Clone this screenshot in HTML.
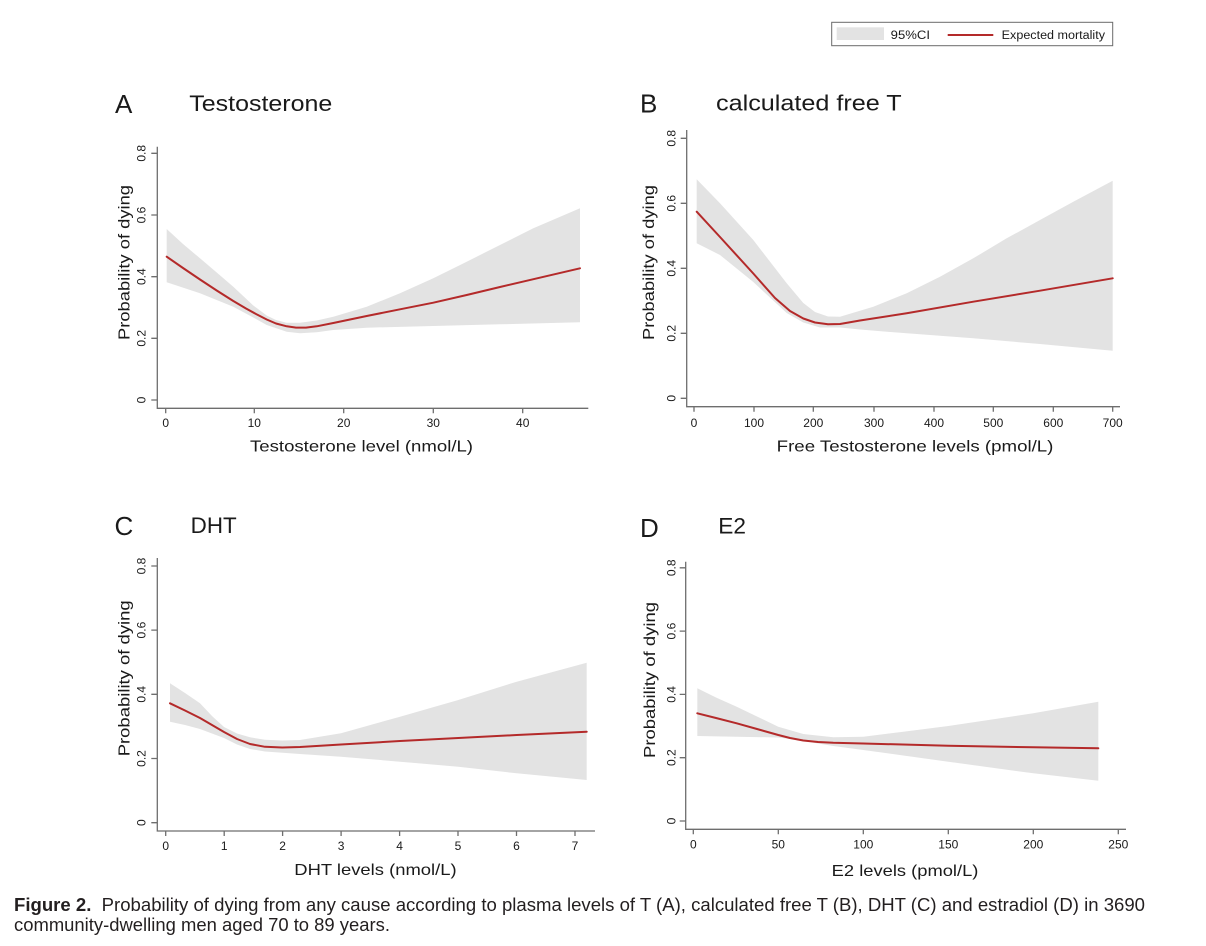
<!DOCTYPE html>
<html><head><meta charset="utf-8"><style>
html,body{margin:0;padding:0;background:#fff;}
svg{display:block;}
text{font-family:"Liberation Sans",Arial,sans-serif;fill:#1a1a1a;}
.ax{stroke:#6e6e6e;stroke-width:1.3;fill:none;}
.band{fill:#e3e3e3;stroke:none;}
.mean{fill:none;stroke:#b42a2a;stroke-width:2;stroke-linejoin:round;stroke-linecap:round;}
.tk{font-size:12px;}
.xt{font-size:16px;}
.pl{font-size:26px;}
.pt{font-size:22px;}
</style></head><body>
<svg width="1206" height="946" viewBox="0 0 1206 946" xmlns="http://www.w3.org/2000/svg">
<rect width="1206" height="946" fill="#fff"/>

<!-- Legend -->
<rect x="831.7" y="22.3" width="281" height="23.4" fill="#fff" stroke="#6a6a6a" stroke-width="1"/>
<rect x="836.7" y="27.3" width="47.3" height="12.7" fill="#e3e3e3"/>
<text x="890.7" y="39" font-size="11.5" textLength="39.3" lengthAdjust="spacingAndGlyphs">95%CI</text>
<line x1="947.7" y1="35" x2="993.3" y2="35" stroke="#b42a2a" stroke-width="2"/>
<text x="1001.7" y="39" font-size="11.5" textLength="103.3" lengthAdjust="spacingAndGlyphs">Expected mortality</text>

<!-- ===== Panel A ===== -->
<text class="pl" x="115" y="113">A</text>
<text class="pt" x="189.3" y="111" textLength="143" lengthAdjust="spacingAndGlyphs">Testosterone</text>
<polygon class="band" points="166.7,229 183,244 200,258.3 216.7,272.5 233.3,286.7 253.3,305.5 266.7,315.5 276,320 286.7,322.7 300,322.8 316.7,320.5 333.3,316.7 366.7,306.7 400,293.3 433.3,278.3 466.7,261.7 500,245 533.3,228.3 580,208.3 580,322.3 500,324.3 433.3,326 366.7,327.7 333.3,330 316.7,332.3 300,333.3 286.7,331.7 266.7,325 253.3,317.5 233.3,306.7 200,293.3 166.7,282.3"/>
<polyline class="mean" points="166.7,256.7 183,268 200,279.5 216.7,290.5 233.3,301 246,308.5 256,314 266.7,319.5 276,323.5 286.7,326.3 296,327.6 306,327.6 316.7,326.3 333.3,323 350,319.5 366.7,316 400,309.3 433.3,302.7 466.7,295 500,287 522.7,281.7 550,275.3 580,268.3"/>
<path class="ax" d="M157.3,146.7 V408.3 H588.3"/>
<path class="ax" d="M151.3,400H157.3 M151.3,338.3H157.3 M151.3,276.7H157.3 M151.3,215H157.3 M151.3,153.3H157.3 M165.7,408.3V413.3 M254.3,408.3V413.3 M343.7,408.3V413.3 M433.3,408.3V413.3 M522.7,408.3V413.3"/>
<g class="tk" text-anchor="middle">
<text transform="translate(145.5,400) rotate(-90)">0</text>
<text transform="translate(145.5,338.3) rotate(-90)">0.2</text>
<text transform="translate(145.5,276.7) rotate(-90)">0.4</text>
<text transform="translate(145.5,215) rotate(-90)">0.6</text>
<text transform="translate(145.5,153.3) rotate(-90)">0.8</text>
<text x="165.7" y="427">0</text>
<text x="254.3" y="427">10</text>
<text x="343.7" y="427">20</text>
<text x="433.3" y="427">30</text>
<text x="522.7" y="427">40</text>
</g>
<text class="xt" x="250" y="451.5" textLength="223" lengthAdjust="spacingAndGlyphs">Testosterone level (nmol/L)</text>
<text class="xt" text-anchor="middle" transform="translate(129.5,262.5) rotate(-90)" textLength="155" lengthAdjust="spacingAndGlyphs">Probability of dying</text>

<!-- ===== Panel B ===== -->
<text class="pl" x="640" y="112.5">B</text>
<text class="pt" x="716" y="110.5" textLength="185.7" lengthAdjust="spacingAndGlyphs">calculated free T</text>
<polygon class="band" points="696.7,179.3 720,203.3 753.3,240 786.7,283.3 803.3,303 815,312 828,316.5 840,316.7 873.3,306.7 906.7,293.3 940,276.7 973.3,258.3 1006.7,238.3 1040,220 1073.3,201.7 1112.7,180.7 1112.7,350.7 1040,344 973.3,338.3 906.7,333.3 860,329.5 840,327.5 820,327.5 803.3,322.5 786.7,313 753.3,282 720,255 696.7,243.3"/>
<polyline class="mean" points="696.7,211.7 720,237 753.3,273.5 775,298 790,311 803.3,318.5 815,322.5 828,324.3 840,324 860,320.5 906.7,313.3 973.3,301.7 1040,290.7 1112.7,278.3"/>
<path class="ax" d="M686.7,130 V406.7 H1120"/>
<path class="ax" d="M680.7,398.3H686.7 M680.7,333.3H686.7 M680.7,268.3H686.7 M680.7,203.3H686.7 M680.7,138.3H686.7 M694,406.7V411.7 M754,406.7V411.7 M813.3,406.7V411.7 M874,406.7V411.7 M934,406.7V411.7 M993.3,406.7V411.7 M1053.3,406.7V411.7 M1112.7,406.7V411.7"/>
<g class="tk" text-anchor="middle">
<text transform="translate(675.5,398.3) rotate(-90)">0</text>
<text transform="translate(675.5,333.3) rotate(-90)">0.2</text>
<text transform="translate(675.5,268.3) rotate(-90)">0.4</text>
<text transform="translate(675.5,203.3) rotate(-90)">0.6</text>
<text transform="translate(675.5,138.3) rotate(-90)">0.8</text>
<text x="694" y="427">0</text>
<text x="754" y="427">100</text>
<text x="813.3" y="427">200</text>
<text x="874" y="427">300</text>
<text x="934" y="427">400</text>
<text x="993.3" y="427">500</text>
<text x="1053.3" y="427">600</text>
<text x="1112.7" y="427">700</text>
</g>
<text class="xt" x="776.7" y="451.7" textLength="276.7" lengthAdjust="spacingAndGlyphs">Free Testosterone levels (pmol/L)</text>
<text class="xt" text-anchor="middle" transform="translate(654,262.5) rotate(-90)" textLength="155" lengthAdjust="spacingAndGlyphs">Probability of dying</text>

<!-- ===== Panel C ===== -->
<text class="pl" x="114.5" y="535">C</text>
<text class="pt" x="190.7" y="533" textLength="46" lengthAdjust="spacingAndGlyphs">DHT</text>
<polygon class="band" points="170,683.3 185,693 200,703.3 212,716 224,727 237,733.5 250,737.3 265,739.8 282.3,740.5 300,740 341,733.3 400,716.7 458.3,700 516.7,681.7 586.7,662.7 586.7,780 516.7,773.3 458.3,766.7 400,761.7 341,756.7 300,754 282.3,752.7 265,751.5 250,749 237,744.5 224,738 212,733.5 200,729 185,725 170,721.7"/>
<polyline class="mean" points="170,703.3 185,710.5 200,718 212,725 224,732 237,739 250,744 265,746.8 282.3,747.5 300,747 341,744.5 400,741 458.3,738 516.7,735 586.7,731.7"/>
<path class="ax" d="M157.3,558 V831 H595"/>
<path class="ax" d="M151.3,822.7H157.3 M151.3,758.5H157.3 M151.3,694.3H157.3 M151.3,630.1H157.3 M151.3,566H157.3 M165.7,831V836 M224.2,831V836 M282.6,831V836 M341.1,831V836 M399.6,831V836 M458,831V836 M516.5,831V836 M575,831V836"/>
<g class="tk" text-anchor="middle">
<text transform="translate(145.5,822.7) rotate(-90)">0</text>
<text transform="translate(145.5,758.5) rotate(-90)">0.2</text>
<text transform="translate(145.5,694.3) rotate(-90)">0.4</text>
<text transform="translate(145.5,630.1) rotate(-90)">0.6</text>
<text transform="translate(145.5,566) rotate(-90)">0.8</text>
<text x="165.7" y="850">0</text>
<text x="224.2" y="850">1</text>
<text x="282.6" y="850">2</text>
<text x="341.1" y="850">3</text>
<text x="399.6" y="850">4</text>
<text x="458" y="850">5</text>
<text x="516.5" y="850">6</text>
<text x="575" y="850">7</text>
</g>
<text class="xt" x="294.3" y="875" textLength="162.3" lengthAdjust="spacingAndGlyphs">DHT levels (nmol/L)</text>
<text class="xt" text-anchor="middle" transform="translate(129.5,678.3) rotate(-90)" textLength="156" lengthAdjust="spacingAndGlyphs">Probability of dying</text>

<!-- ===== Panel D ===== -->
<text class="pl" x="640" y="537">D</text>
<text class="pt" x="718.3" y="533.5" textLength="27.7" lengthAdjust="spacingAndGlyphs">E2</text>
<polygon class="band" points="697.3,688.3 716,697.5 736.7,706.7 757,716.5 778.3,726.7 803.3,734 833.3,737.3 863.3,736.7 903.3,731.7 948.3,726 1033.3,713.3 1098.3,701.7 1098.3,780.7 1033.3,773.3 948.3,761.7 863.3,750 833.3,746 803.3,741 790,739 778.3,737.5 736.7,736.7 697.3,736"/>
<polyline class="mean" points="697.3,713.3 716,718 736.7,723.3 757,729 778.3,735 790,738 803.3,740.5 818,742 833.3,742.8 863.3,743.5 948.3,745.7 1033.3,747.3 1098.3,748.3"/>
<path class="ax" d="M685.7,561.7 V829.3 H1126"/>
<path class="ax" d="M679.7,821H685.7 M679.7,757.7H685.7 M679.7,694.4H685.7 M679.7,631.1H685.7 M679.7,567.8H685.7 M693.3,829.3V834.3 M778.3,829.3V834.3 M863.3,829.3V834.3 M948.3,829.3V834.3 M1033.3,829.3V834.3 M1118.3,829.3V834.3"/>
<g class="tk" text-anchor="middle">
<text transform="translate(675.5,821) rotate(-90)">0</text>
<text transform="translate(675.5,757.7) rotate(-90)">0.2</text>
<text transform="translate(675.5,694.4) rotate(-90)">0.4</text>
<text transform="translate(675.5,631.1) rotate(-90)">0.6</text>
<text transform="translate(675.5,567.8) rotate(-90)">0.8</text>
<text x="693.3" y="848.5">0</text>
<text x="778.3" y="848.5">50</text>
<text x="863.3" y="848.5">100</text>
<text x="948.3" y="848.5">150</text>
<text x="1033.3" y="848.5">200</text>
<text x="1118.3" y="848.5">250</text>
</g>
<text class="xt" x="831.7" y="876" textLength="146.7" lengthAdjust="spacingAndGlyphs">E2 levels (pmol/L)</text>
<text class="xt" text-anchor="middle" transform="translate(655,680) rotate(-90)" textLength="156" lengthAdjust="spacingAndGlyphs">Probability of dying</text>

<!-- Caption -->
<text x="14" y="911" font-size="18.5" style="fill:#231f20" textLength="1131" lengthAdjust="spacingAndGlyphs"><tspan font-weight="bold" style="fill:#231f20">Figure 2.</tspan><tspan style="fill:#231f20">&#160; Probability of dying from any cause according to plasma levels of T (A), calculated free T (B), DHT (C) and estradiol (D) in 3690</tspan></text>
<text x="14" y="931" font-size="18.5" style="fill:#231f20" textLength="376" lengthAdjust="spacingAndGlyphs">community-dwelling men aged 70 to 89 years.</text>
</svg>
</body></html>
